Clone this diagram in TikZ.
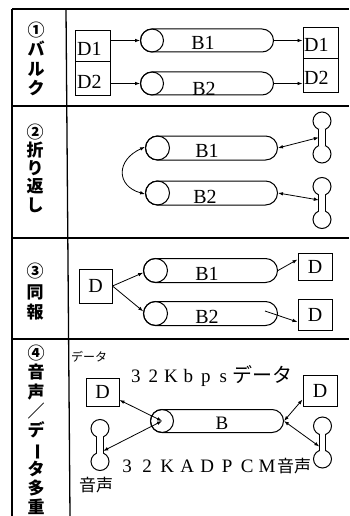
\documentclass[tikz,border=0pt]{standalone}
\usepackage{fontspec}
\usepackage{graphicx}
\setmainfont{Liberation Serif}
\newfontfamily\jp{Noto Sans CJK JP}
\usetikzlibrary{shapes.misc,arrows.meta}
\newcommand\pitchA[1]{\makebox[17.5pt][c]{#1}}
\newcommand\pitchB[1]{\makebox[20pt][c]{#1}}
\begin{document}
\begin{tikzpicture}[x=1pt,y=1pt,
  tbl/.style={line width=1.3pt},
  shp/.style={draw, line width=1pt, inner sep=0pt},
  caps/.style={shp, rounded rectangle, minimum height=#1, anchor=west},
  caps/.default=23pt,
  capc/.style={shp, circle, minimum size=#1, anchor=west},
  capc/.default=23pt,
  lat/.style={font=\fontsize{20}{24}\selectfont, inner sep=0pt},
  arr/.style={line width=0.8pt, -{Latex[length=5pt,width=3.6pt]}},
  darr/.style={line width=0.8pt, {Latex[length=5pt,width=3.6pt]}-{Latex[length=5pt,width=3.6pt]}},
  vcol/.style={font=\fontsize{17}{19.3}\jp\bfseries, align=center, inner sep=0pt},
  handset/.pic={
    \draw[line width=1pt] (0,16.5) circle[radius=9] (0,-16.5) circle[radius=9];
    \fill[white] (-3.2,-8.6) rectangle (3.2,8.6);
    \draw[line width=1pt] (-3.2,-8.1) -- (-3.2,8.1) (3.2,-8.1) -- (3.2,8.1);
    \coordinate (-w) at (-3.2,0);
    \coordinate (-e) at (3.2,0);
  }
]
\useasboundingbox (0,0) rectangle (349,-516);
% table
\draw[tbl] (12,-9) -- (349,-9);
\draw[tbl] (12,-9) -- (12,-516);
\draw[tbl] (66,-9) -- (70,-516);
\draw[tbl] (12,-106) -- (349,-106);
\draw[tbl] (12,-238) -- (349,-238);
\draw[tbl] (12,-339) -- (349,-339);
% left column
\node[vcol] (c1) at (36,-59) {①\\バ\\ル\\ク};
\node[vcol, font=\fontsize{17}{18.3}\jp\bfseries] (c2) at (35,-168) {②\\折\\り\\返\\し};
\node[vcol, font=\fontsize{17}{20.5}\jp\bfseries] (c3) at (35,-292) {③\\同\\報};
\node[vcol] (c4) at (36,-430) {④\\音\\声\\／\\デ\\\rotatebox[origin=c]{-90}{ー}\\タ\\多\\重};
% ---- row 1
\node[shp, minimum width=35pt, minimum height=31pt] (r1dL1) at (92.5,-46.5) {};
\node[shp, minimum width=35pt, minimum height=34pt] (r1dL2) at (92.5,-79) {};
\node[lat, anchor=west] (r1dL1t) at (77,-48.5) {D1};
\node[lat, anchor=west] (r1dL2t) at (77,-81.5) {D2};
\node[shp, minimum width=35pt, minimum height=31pt] (r1dR1) at (320.5,-43.5) {};
\node[shp, minimum width=35pt, minimum height=34pt] (r1dR2) at (320.5,-76) {};
\node[lat, anchor=west] (r1dR1t) at (304,-44.5) {D1};
\node[lat, anchor=west] (r1dR2t) at (304,-78) {D2};
\node[caps, minimum width=133pt] (r1b1) at (140,-40.5) {};
\node[capc] (r1b1c) at (140,-40.5) {};
\node[lat] (r1b1t) at (203,-42.5) {B1};
\node[caps, minimum width=133pt] (r1b2) at (140,-83.5) {};
\node[capc] (r1b2c) at (140,-83.5) {};
\node[lat] (r1b2t) at (204,-89) {B2};
\draw[arr] (r1dL1.east |- r1b1c.west) -- (r1b1c.west);
\draw[arr] (r1dL2.east |- r1b2c.west) -- (r1b2c.west);
\draw[arr] (r1b1.east) -- (r1b1.east -| r1dR1.west);
\draw[arr] (r1b2.east) -- (r1b2.east -| r1dR2.west);
% ---- row 2
\node[caps=24pt, minimum width=132pt] (r2b1) at (145,-148) {};
\node[capc=24pt] (r2b1c) at (145,-148) {};
\node[lat] (r2b1t) at (207,-151) {B1};
\node[caps=24pt, minimum width=132pt] (r2b2) at (145,-193) {};
\node[capc=24pt] (r2b2c) at (145,-193) {};
\node[lat] (r2b2t) at (205,-197) {B2};
\pic (h1) at (322,-137.5) {handset};
\pic (h2) at (322,-203) {handset};
\draw[darr] (r2b1.east) -- (h1-w);
\draw[darr] (r2b2.east) -- ([yshift=3pt]h2-w);
\draw[darr] (r2b1c.175) .. controls (116,-160) and (116,-186) .. (r2b2c.185);
% ---- row 3
\node[shp, minimum width=33pt, minimum height=34pt] (r3d) at (95.5,-286) {};
\node[lat] (r3dt) at (r3d) {D};
\node[caps=24pt, minimum width=134pt] (r3b1) at (143,-270.5) {};
\node[capc=24pt] (r3b1c) at (143,-270.5) {};
\node[lat] (r3b1t) at (207,-273.5) {B1};
\node[caps=24pt, minimum width=134pt] (r3b2) at (143,-313.5) {};
\node[capc=24pt] (r3b2c) at (143,-313.5) {};
\node[lat] (r3b2t) at (207,-316.5) {B2};
\node[shp, minimum width=34pt, minimum height=27pt] (r3dA) at (315,-266.5) {};
\node[lat] (r3dAt) at (r3dA) {D};
\node[shp, minimum width=34pt, minimum height=31pt] (r3dB) at (315,-314.5) {};
\node[lat] (r3dBt) at (r3dB) {D};
\draw[arr] (r3d.east) -- (r3b1c.190);
\draw[arr] (r3d.east) -- (r3b2c.170);
\draw[arr] (r3b1.east) -- ([yshift=7pt]r3dA.west);
\coordinate (r3s) at (265,-311);
\draw[arr] (r3s) -- ([yshift=-7.5pt]r3dB.west);
% ---- row 4
\node[inner sep=0pt, anchor=west, font=\fontsize{12}{14}\jp] (r4data) at (71,-357) {データ};
\node[inner sep=0pt, anchor=west] (r4top) at (127,-376)
  {{\fontsize{19}{22}\selectfont\pitchA{3}\pitchA{2}\pitchA{K}\pitchA{b}\pitchA{p}\pitchA{s}}{\fontsize{20}{22}\jp データ}};
\node[shp, minimum width=33pt, minimum height=28pt] (r4dL) at (102.5,-392) {};
\node[lat] (r4dLt) at (r4dL) {D};
\node[shp, minimum width=34pt, minimum height=31pt] (r4dR) at (320,-390.5) {};
\node[lat] (r4dRt) at (r4dR) {D};
\node[caps, minimum width=133pt] (r4b) at (150,-421) {};
\node[capc] (r4bc) at (150,-421) {};
\node[lat, font=\fontsize{19}{22}\selectfont] (r4bt) at (222,-423.5) {B};
\pic (h3) at (100,-445) {handset};
\pic (h4) at (322.5,-442.5) {handset};
\draw[darr] ([yshift=-8pt]r4dL.east) -- (r4bc.center);
\draw[darr] (r4bc.center) -- ([yshift=-6pt]h3-e);
\draw[darr] (r4b.east) -- ([yshift=-9pt]r4dR.west);
\draw[darr] (r4b.east) -- ([yshift=-4pt]h4-w);
\node[inner sep=0pt, anchor=west] (r4bot) at (117,-466)
  {{\fontsize{19}{22}\selectfont\pitchB{3}\pitchB{2}\pitchB{K}\pitchB{A}\pitchB{D}\pitchB{P}\pitchB{C}\pitchB{M}}{\fontsize{17}{20}\jp 音声}};
\node[inner sep=0pt, font=\fontsize{17}{20}\jp] (r4voice) at (96,-485) {音声};
\end{tikzpicture}
\end{document}
